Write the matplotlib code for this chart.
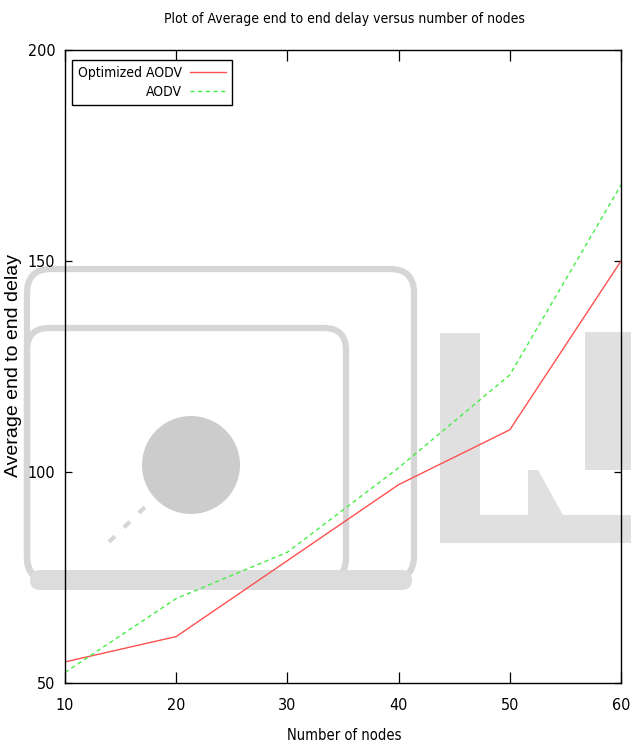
import matplotlib
matplotlib.use("Agg")
import matplotlib.pyplot as plt
from matplotlib.patches import FancyBboxPatch, Circle, Rectangle, Polygon

# data
nodes = [10, 20, 30, 40, 50, 60]
optimized_aodv = [55, 61, 79, 97, 110, 150]
aodv = [52.5, 70, 81, 101, 123, 168]
x_ticks = [10, 20, 30, 40, 50, 60]
y_ticks = [50, 100, 150, 200]

plt.rcParams["font.family"] = ["DejaVu Sans"]
plt.rcParams["font.stretch"] = "condensed"
W, H = 631, 745

fig = plt.figure(figsize=(W / 100, H / 100), dpi=100)

# faint watermark logo behind the plot (pixel coords, origin top-left)
bg = fig.add_axes([0, 0, 1, 1], zorder=-1)
bg.set_xlim(0, W)
bg.set_ylim(H, 0)
bg.axis("off")
wm = "#d6d6d6"
bg.add_patch(FancyBboxPatch((27, 269), 387, 311, boxstyle="round,pad=0,rounding_size=24",
                            fill=False, ec=wm, lw=4.5))
bg.add_patch(FancyBboxPatch((27, 328), 319, 252, boxstyle="round,pad=0,rounding_size=22",
                            fill=False, ec=wm, lw=4.5))
bg.add_patch(FancyBboxPatch((30, 570), 382, 20, boxstyle="round,pad=0,rounding_size=10",
                            fc="#dcdcdc", ec="none"))
bg.add_patch(Circle((191, 465), 49, fc="#cccccc", ec="none"))
bg.plot([109, 149], [542, 503], color=wm, lw=3, dashes=(2, 3))
wm2 = "#e0e0e0"
bg.add_patch(Rectangle((440, 333), 40, 210, fc=wm2, ec="none"))
bg.add_patch(Rectangle((480, 515), 151, 28, fc=wm2, ec="none"))
bg.add_patch(Rectangle((585, 332), 46, 138, fc=wm2, ec="none"))
bg.add_patch(Polygon([(528, 470), (538, 470), (563, 515), (528, 515)], fc=wm2, ec="none"))

ax = fig.add_axes([65 / W, 1 - 683 / H, (621 - 65) / W, (683 - 50) / H])
ax.patch.set_alpha(0)

ax.plot(nodes, optimized_aodv, color="#ff5050", lw=1.0, label="Optimized AODV")
ax.plot(nodes, aodv, color="#44ee44", lw=1.0, dashes=(3, 2.5), label="AODV")

ax.set_xlim(10, 60)
ax.set_ylim(50, 200)
ax.set_xticks(x_ticks)
ax.set_yticks(y_ticks)
ax.tick_params(direction="in", top=True, right=True, width=0.9, colors="black")
ax.tick_params(axis="x", length=8, pad=11, labelsize=11.5)
ax.tick_params(axis="y", length=5, pad=7, labelsize=11.5)
for s in ax.spines.values():
    s.set_linewidth(1.0)

fig.text(0.5 * (65 + 621) / W + 0.003, 1 - 19 / H, "Plot of Average end to end delay versus number of nodes",
         ha="center", va="center", fontsize=10)
fig.text(344 / W, 1 - 735 / H, "Number of nodes", ha="center", va="center", fontsize=10.5)
fig.text(14 / W, 1 - 365 / H, "Average end to end delay", ha="center", va="center",
         rotation=90, fontsize=14, family=["Liberation Sans", "DejaVu Sans"],
         fontstretch="normal")

leg = ax.legend(loc="upper left", bbox_to_anchor=(72 / W, 1 - 60 / H),
                bbox_transform=fig.transFigure, markerfirst=False, fancybox=False,
                framealpha=1, edgecolor="black", borderaxespad=0, borderpad=0.4,
                handlelength=2.6, handletextpad=0.6, labelspacing=0.4,
                prop={"size": 10})
leg.get_frame().set_linewidth(1.0)

fig.savefig("out.png", dpi=100)
